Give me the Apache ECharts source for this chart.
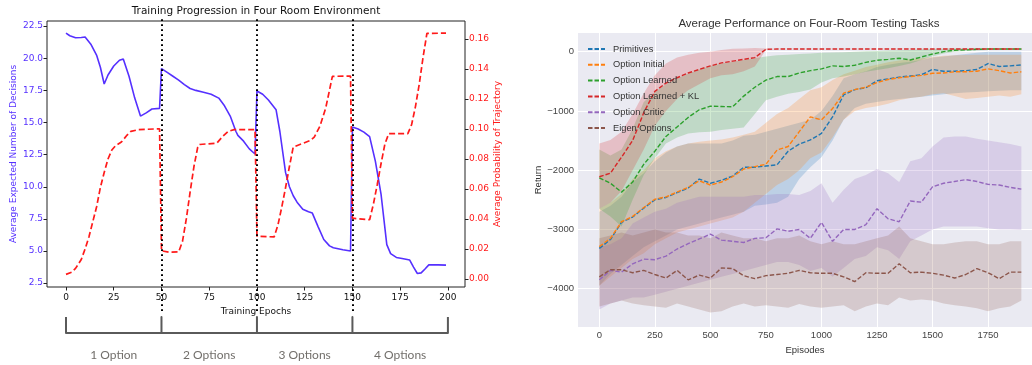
<!DOCTYPE html>
<html>
<head>
<meta charset="utf-8">
<script src="https://cdn.jsdelivr.net/npm/echarts@6/dist/echarts.min.js"></script>
<style>
  html, body { margin: 0; padding: 0; background: #fff; }
  #chart { width: 1032px; height: 365px; }
</style>
</head>
<body>
<div id="chart"></div>
<script>
// ---- left panel: training progression ----
const decisionEpochs = [0,2,5,8,10,13,16,18,20,22,25,28,30,33,36,39,40,42,45,49,
  50,53,56,59,62,65,68,72,76,80,83,86,89,90,93,96,99,
  100,103,106,110,112,115,117,119,121,124,127,129,132,135,138,140,145,149,
  150,153,156,159,162,165,168,170,173,176,180,182,184,186,188,190,195,199];
const decisionValues = [21.95,21.75,21.6,21.62,21.65,21.1,20.25,19.3,18.0,18.7,19.4,19.85,19.95,18.6,16.9,15.5,15.35,15.75,16.05,16.1,
  19.2,18.9,18.6,18.3,17.95,17.65,17.5,17.35,17.2,16.9,16.3,15.5,14.3,14.0,13.55,12.95,12.55,
  17.45,17.2,16.75,16.0,14.3,11.1,10.0,9.3,8.8,8.25,8.05,7.95,6.9,5.9,5.4,5.25,5.1,5.0,
  14.65,14.5,14.25,13.9,12.0,9.4,5.5,4.8,4.5,4.42,4.3,3.75,3.25,3.3,3.6,3.92,3.92,3.9];
const probEpochs = [0,3,5,8,10,12,14,16,18,20,22,24,26,29,30,32,34,38,49,
  50,54,59,61,63,65,67,69,70,79,82,85,88,99,
  100,109,111,113,115,117,119,120,128,130,133,136,138,139.5,149,
  150,159,161,163,165,167,169,179,181,183,185,187,189,199];
const probValues = [0.003,0.0045,0.007,0.013,0.02,0.028,0.038,0.048,0.061,0.071,0.08,0.086,0.089,0.0913,0.0915,0.096,0.0985,0.0996,0.1002,
  0.0188,0.0178,0.018,0.025,0.04,0.058,0.075,0.088,0.0897,0.0906,0.095,0.0985,0.0996,0.0996,
  0.0285,0.028,0.036,0.048,0.061,0.075,0.088,0.089,0.0924,0.0946,0.102,0.114,0.126,0.1352,0.1353,
  0.0405,0.0395,0.05,0.063,0.077,0.09,0.0969,0.0969,0.103,0.115,0.13,0.148,0.1638,0.164];
const optionSwitches = [50, 100, 150];
const phaseBounds = [0, 50, 100, 150, 200];
const phaseLabels = ['1 Option', '2 Options', '3 Options', '4 Options'];
const epochTicks = [0, 25, 50, 75, 100, 125, 150, 175, 200];
const decisionTicks = [2.5, 5, 7.5, 10, 12.5, 15, 17.5, 20, 22.5];
const probTicks = [0, 0.02, 0.04, 0.06, 0.08, 0.1, 0.12, 0.14, 0.16];

// ---- right panel: testing tasks ----
const episodes = [0,50,100,150,200,250,300,350,400,450,500,550,600,650,700,750,800,850,900,950,
  1000,1050,1100,1150,1200,1250,1300,1350,1400,1450,1500,1550,1600,1650,1700,1750,1800,1850,1900];
const episodeTicks = [0, 250, 500, 750, 1000, 1250, 1500, 1750];
const returnTicks = [-4000, -3000, -2000, -1000, 0];

const primMean = [-3320,-3170,-2880,-2790,-2640,-2500,-2460,-2380,-2300,-2150,-2220,-2170,-2100,-1950,-1950,-1930,-1910,-1680,-1560,-1490,
  -1380,-1100,-730,-640,-610,-490,-460,-430,-410,-390,-300,-330,-330,-320,-300,-200,-250,-240,-225];
const primHi = [-2700,-2600,-2450,-2200,-2050,-1850,-1700,-1600,-1550,-1550,-1550,-1550,-1500,-1420,-1400,-1350,-1300,-1250,-1200,-1150,
  -1000,-750,-450,-380,-330,-260,-220,-190,-170,-140,-100,-80,-60,-40,-20,0,0,0,0];
const primLo = [-3950,-3750,-3600,-3450,-3300,-3200,-3100,-3000,-2950,-2900,-2850,-2800,-2750,-2700,-2600,-2580,-2550,-2450,-2150,-1950,
  -1780,-1500,-1150,-950,-880,-850,-820,-800,-780,-760,-740,-720,-700,-690,-680,-670,-660,-650,-650];

const initMean = [-3290,-3150,-2870,-2780,-2630,-2490,-2450,-2370,-2290,-2180,-2250,-2200,-2110,-1980,-1940,-1900,-1660,-1600,-1350,-1100,
  -1150,-960,-700,-640,-600,-520,-470,-440,-420,-400,-365,-360,-340,-340,-330,-290,-320,-360,-340];
const initHi = [-2650,-2550,-2400,-2150,-2000,-1800,-1680,-1600,-1550,-1520,-1500,-1480,-1450,-1400,-1350,-1200,-1050,-950,-800,-650,
  -600,-480,-380,-320,-260,-220,-180,-150,-130,-110,-90,-70,-60,-55,-50,-50,-50,-50,-50];
const initLo = [-3950,-3800,-3650,-3500,-3400,-3250,-3150,-3050,-3000,-2950,-2900,-2850,-2800,-2700,-2550,-2400,-2250,-2150,-2000,-1800,
  -1700,-1450,-1150,-1000,-950,-920,-880,-820,-780,-760,-720,-700,-750,-800,-780,-760,-740,-760,-720];

const learnMean = [-2130,-2220,-2370,-2200,-1900,-1680,-1430,-1270,-1110,-980,-920,-925,-930,-750,-600,-480,-420,-420,-360,-320,
  -290,-240,-250,-230,-180,-145,-130,-110,-140,-90,-40,0,25,30,40,45,45,45,45];
const learnHi = [-1650,-1750,-1650,-1300,-850,-680,-550,-450,-370,-300,-240,-200,-170,-140,-110,-80,-60,-50,-40,-30,
  -20,-15,-10,0,5,10,20,25,30,40,45,50,55,55,55,55,55,55,55];
const learnLo = [-2650,-2780,-2950,-2500,-2080,-1800,-1550,-1450,-1380,-1360,-1350,-1320,-1300,-1280,-1050,-820,-760,-710,-680,-640,
  -520,-450,-420,-380,-340,-310,-280,-240,-200,-140,-80,-30,0,10,20,30,30,30,30];

const klMean = [-2110,-2050,-1780,-1500,-1030,-670,-530,-440,-360,-300,-240,-190,-160,-130,-100,40,45,45,45,45,
  45,45,45,45,45,45,45,45,45,45,45,45,45,45,45,45,45,45,45];
const klHi = [-1550,-1490,-1350,-1050,-700,-400,-200,-100,-50,-20,0,30,50,55,60,55,50,50,50,50,
  50,50,50,50,50,50,50,50,50,50,50,50,50,50,50,50,50,50,50];
const klLo = [-2650,-2550,-2350,-2000,-1650,-1250,-1000,-800,-650,-550,-450,-400,-380,-330,-250,30,40,40,40,40,
  40,40,40,40,40,40,40,40,40,40,40,40,40,40,40,40,40,40,40];

const criticMean = [-3850,-3690,-3720,-3580,-3500,-3510,-3450,-3330,-3240,-3160,-3080,-3180,-3200,-3220,-3150,-3140,-2990,-3030,-3000,-3150,
  -2880,-3200,-3000,-3000,-2920,-2650,-2820,-2870,-2520,-2540,-2280,-2220,-2190,-2160,-2190,-2240,-2250,-2290,-2320];
const criticHi = [-3300,-3250,-3150,-2900,-2800,-2700,-2650,-2550,-2500,-2450,-2450,-2450,-2450,-2450,-2420,-2420,-2400,-2400,-2420,-2350,
  -2220,-2550,-2330,-2150,-2080,-1980,-2050,-2200,-1850,-1800,-1600,-1450,-1430,-1430,-1470,-1500,-1530,-1560,-1600];
const criticLo = [-4350,-4250,-4200,-4150,-4150,-4100,-4050,-4000,-3950,-3900,-3850,-3800,-3750,-3700,-3650,-3600,-3550,-3550,-3600,-3700,
  -3650,-3800,-3650,-3500,-3450,-3300,-3350,-3500,-3200,-3100,-3000,-2950,-2950,-2950,-2950,-2980,-3000,-3000,-3010];

const eigenMean = [-3800,-3680,-3680,-3730,-3690,-3760,-3820,-3690,-3850,-3770,-3820,-3650,-3660,-3780,-3830,-3780,-3760,-3740,-3690,-3730,
  -3740,-3740,-3800,-3880,-3730,-3740,-3740,-3580,-3730,-3720,-3740,-3770,-3820,-3760,-3660,-3730,-3830,-3720,-3720];
const eigenHi = [-3150,-3100,-3050,-3100,-3050,-3000,-3050,-3050,-3100,-3100,-3150,-3050,-3100,-3150,-3150,-3200,-3150,-3150,-3100,-3200,
  -3250,-3200,-3250,-3250,-3200,-3150,-3100,-2950,-3150,-3200,-3250,-3250,-3220,-3200,-3200,-3250,-3250,-3200,-3200];
const eigenLo = [-4300,-4250,-4200,-4250,-4280,-4300,-4320,-4250,-4300,-4350,-4400,-4380,-4300,-4250,-4300,-4280,-4300,-4320,-4260,-4300,
  -4320,-4300,-4280,-4380,-4300,-4250,-4280,-4150,-4200,-4180,-4200,-4250,-4280,-4300,-4330,-4380,-4330,-4300,-4200];

const methods = [
  { name: 'Primitives', color: '#1f77b4', mean: primMean, lo: primLo, hi: primHi },
  { name: 'Option Initial', color: '#ff7f0e', mean: initMean, lo: initLo, hi: initHi },
  { name: 'Option Learned', color: '#2ca02c', mean: learnMean, lo: learnLo, hi: learnHi },
  { name: 'Option Learned + KL', color: '#d62728', mean: klMean, lo: klLo, hi: klHi },
  { name: 'Option Critic', color: '#9467bd', mean: criticMean, lo: criticLo, hi: criticHi },
  { name: 'Eigen Options', color: '#8c564b', mean: eigenMean, lo: eigenLo, hi: eigenHi }
];

const zip = (xs, ys) => xs.map((x, i) => [x, ys[i]]);
function rgba(hex, a) {
  const n = parseInt(hex.slice(1), 16);
  return 'rgba(' + (n >> 16) + ',' + ((n >> 8) & 255) + ',' + (n & 255) + ',' + a + ')';
}

const blue = '#5530ff';
const red = '#ff1a1a';
const dejavu = 'DejaVu Sans';
const arial = 'Liberation Sans';

// bracket below the left x axis
const bracketPath = [];
phaseBounds.forEach((b, i) => {
  if (i === 0) bracketPath.push([b, 1], [b, 0]);
  else if (i === phaseBounds.length - 1) bracketPath.push([b, 0], [b, 1]);
  else bracketPath.push([b, 0], [b, 1], [b, 0]);
});
const phaseMids = phaseLabels.map((t, i) => [(phaseBounds[i] + phaseBounds[i + 1]) / 2, -1.375]);

const series = [
  {
    name: 'decisions', type: 'line', xAxisIndex: 0, yAxisIndex: 0,
    data: zip(decisionEpochs, decisionValues), symbol: 'none',
    lineStyle: { color: blue, width: 1.6 }, z: 3
  },
  {
    name: 'probability', type: 'line', xAxisIndex: 0, yAxisIndex: 1,
    data: zip(probEpochs, probValues), symbol: 'none',
    lineStyle: { color: red, width: 1.7, type: [6, 3] }, z: 3
  },
  {
    name: 'switches', type: 'line', xAxisIndex: 1, yAxisIndex: 2, data: [],
    markLine: {
      symbol: ['none', 'none'], silent: true, label: { show: false },
      lineStyle: { color: '#000', type: [1.8, 3.2], width: 2 },
      data: optionSwitches.map(x => ({ xAxis: x }))
    }
  },
  {
    name: 'bracket', type: 'line', xAxisIndex: 2, yAxisIndex: 3,
    data: bracketPath, symbol: 'none',
    lineStyle: { color: '#5a5a5a', width: 2, join: 'round' }
  },
  {
    name: 'phases', type: 'scatter', xAxisIndex: 2, yAxisIndex: 3,
    data: phaseMids, symbolSize: 1, itemStyle: { color: 'transparent' },
    label: {
      show: true, position: 'inside', formatter: p => phaseLabels[p.dataIndex],
      color: '#4d4a45', fontFamily: 'Lato', fontSize: 12
    }
  }
];

// shaded spread bands
methods.forEach(m => {
  series.push({
    name: m.name + ' band', type: 'custom', xAxisIndex: 3, yAxisIndex: 4,
    silent: true, clip: true, z: 1,
    data: episodes.map((x, k) => [x, m.lo[k], m.hi[k]]),
    encode: { x: 0, y: [1, 2] },
    renderItem: (params, api) => {
      if (params.dataIndex !== 0) return null;
      const upper = episodes.map((x, k) => api.coord([x, m.hi[k]]));
      const lower = episodes.map((x, k) => api.coord([x, m.lo[k]])).reverse();
      return {
        type: 'polygon',
        shape: { points: upper.concat(lower) },
        style: { fill: rgba(m.color, 0.22) }
      };
    }
  });
});
methods.forEach(m => {
  series.push({
    name: m.name, type: 'line', xAxisIndex: 3, yAxisIndex: 4,
    data: zip(episodes, m.mean), symbol: 'none',
    itemStyle: { color: m.color },
    lineStyle: { color: m.color, width: 1.4, type: [4.5, 2] }, z: 3
  });
});

const chart = echarts.init(document.getElementById('chart'));
chart.setOption({
  animation: false,
  backgroundColor: '#fff',
  title: [
    {
      text: 'Training Progression in Four Room Environment', left: 256, top: 6, textAlign: 'center', padding: 0,
      textStyle: { fontFamily: dejavu, fontSize: 10.5, fontWeight: 'normal', color: '#111' }
    },
    {
      text: 'Average Performance on Four-Room Testing Tasks', left: 809, top: 18, textAlign: 'center', padding: 0,
      textStyle: { fontFamily: arial, fontSize: 11.5, fontWeight: 'normal', color: '#333' }
    }
  ],
  legend: {
    data: methods.map(m => m.name),
    orient: 'vertical', left: 587, top: 44,
    itemWidth: 17, itemHeight: 10, itemGap: 5.8, padding: 0,
    itemStyle: { opacity: 0 },
    textStyle: { fontFamily: arial, fontSize: 9.3, color: '#333', lineHeight: 10, padding: [0, 0, 0, 3] }
  },
  grid: [
    { left: 47, right: 567, top: 21, bottom: 78, show: true, borderColor: '#222', borderWidth: 1, backgroundColor: 'transparent', outerBoundsMode: 'none' },
    { left: 47, right: 567, top: 16, bottom: 54, outerBoundsMode: 'none' },
    { left: 47, right: 567, top: 317, bottom: 5, outerBoundsMode: 'none' },
    { left: 578, right: 0, top: 33, bottom: 38, show: true, backgroundColor: '#eaeaf2', borderWidth: 0, outerBoundsMode: 'none' }
  ],
  xAxis: [
    {
      gridIndex: 0, type: 'value', min: -9.95, max: 208.95,
      axisLine: { show: false, onZero: false },
      axisTick: { show: true, length: 3.5, lineStyle: { color: '#222' }, customValues: epochTicks },
      axisLabel: { customValues: epochTicks, color: '#111', fontFamily: dejavu, fontSize: 9, margin: 6 },
      splitLine: { show: false },
      name: 'Training Epochs', nameLocation: 'middle', nameGap: 17,
      nameTextStyle: { fontFamily: dejavu, fontSize: 9, color: '#111' }
    },
    { gridIndex: 1, type: 'value', min: -9.95, max: 208.95, show: false },
    { gridIndex: 2, type: 'value', min: -9.95, max: 208.95, show: false },
    {
      gridIndex: 3, type: 'value', min: -96, max: 1948,
      axisLine: { show: false, onZero: false }, axisTick: { show: false, customValues: episodeTicks },
      axisLabel: { customValues: episodeTicks, formatter: v => String(v), color: '#444', fontFamily: arial, fontSize: 9.5, margin: 3 },
      splitLine: { show: true, lineStyle: { color: '#fff', width: 1 } },
      name: 'Episodes', nameLocation: 'middle', nameGap: 16,
      nameTextStyle: { fontFamily: arial, fontSize: 9.5, color: '#333' }
    }
  ],
  yAxis: [
    {
      gridIndex: 0, type: 'value', position: 'left', min: 2.2, max: 22.9,
      axisLine: { show: false, onZero: false },
      axisTick: { show: true, length: 3.5, lineStyle: { color: '#222' }, customValues: decisionTicks },
      axisLabel: { customValues: decisionTicks, formatter: v => v.toFixed(1), color: blue, fontFamily: dejavu, fontSize: 9, margin: 4 },
      splitLine: { show: false },
      name: 'Average Expected Number of Decisions', nameLocation: 'middle', nameGap: 29, nameRotate: 90,
      nameTextStyle: { fontFamily: dejavu, fontSize: 9, color: blue }
    },
    {
      gridIndex: 0, type: 'value', position: 'right', min: -0.0054, max: 0.1721,
      axisLine: { show: false, onZero: false },
      axisTick: { show: true, length: 3.5, lineStyle: { color: '#222' }, customValues: probTicks },
      axisLabel: { customValues: probTicks, formatter: v => v.toFixed(2), color: red, fontFamily: dejavu, fontSize: 9, margin: 4 },
      splitLine: { show: false },
      name: 'Average Probability of Trajectory', nameLocation: 'middle', nameGap: 28, nameRotate: 90,
      nameTextStyle: { fontFamily: dejavu, fontSize: 9, color: red }
    },
    { gridIndex: 1, type: 'value', min: 0, max: 1, show: false },
    { gridIndex: 2, type: 'value', min: -1.7, max: 1, show: false },
    {
      gridIndex: 3, type: 'value', min: -4646, max: 315,
      axisLine: { show: false, onZero: false }, axisTick: { show: false, customValues: returnTicks },
      axisLabel: {
        customValues: returnTicks, formatter: v => (v < 0 ? '\u2212' + Math.abs(v) : String(v)),
        color: '#444', fontFamily: arial, fontSize: 9.5, margin: 4
      },
      splitLine: { show: true, lineStyle: { color: '#fff', width: 1 } },
      name: 'Return', nameLocation: 'middle', nameGap: 31, nameRotate: 90,
      nameTextStyle: { fontFamily: arial, fontSize: 9.5, color: '#333' }
    }
  ],
  series: series
});
</script>
</body>
</html>
